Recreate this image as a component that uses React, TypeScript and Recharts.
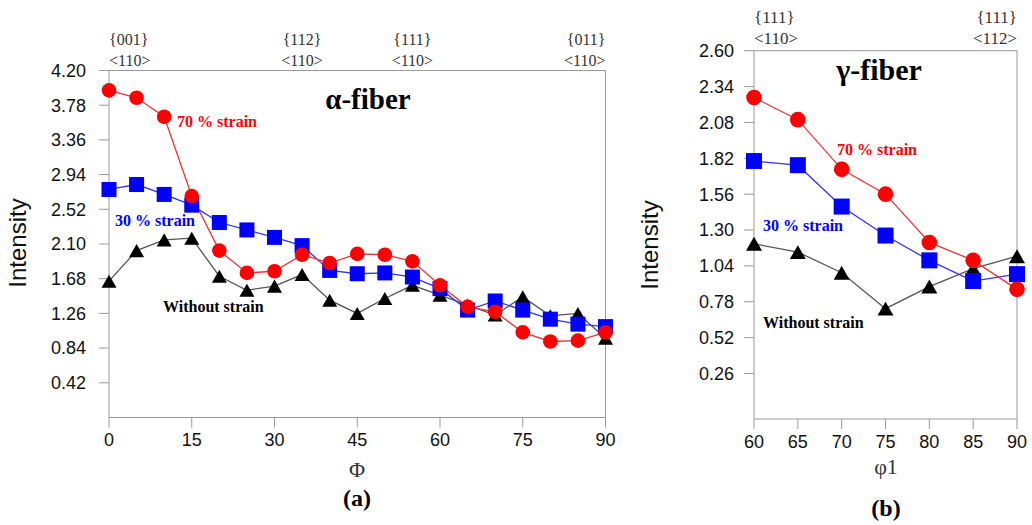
import React from "react";
import { LineChart, Line, XAxis, YAxis, ReferenceLine } from "recharts";

// ---- (a) α-fiber: intensity along Φ ----
const alphaPhi = [0, 5, 10, 15, 20, 25, 30, 35, 40, 45, 50, 55, 60, 65, 70, 75, 80, 85, 90];
const alpha70 = [3.96, 3.87, 3.64, 2.68, 2.02, 1.75, 1.77, 1.97, 1.87, 1.98, 1.97, 1.89, 1.6, 1.34, 1.28, 1.03, 0.92, 0.93, 1.03];
const alpha30 = [2.76, 2.82, 2.7, 2.57, 2.36, 2.27, 2.18, 2.08, 1.78, 1.74, 1.75, 1.7, 1.56, 1.3, 1.41, 1.3, 1.19, 1.13, 1.1];
const alphaNone = [1.65, 2.02, 2.15, 2.17, 1.71, 1.54, 1.59, 1.73, 1.42, 1.26, 1.44, 1.6, 1.48, 1.36, 1.24, 1.46, 1.23, 1.26, 0.96];
const alphaXTicks = [0, 15, 30, 45, 60, 75, 90];
const alphaYTicks = [0.42, 0.84, 1.26, 1.68, 2.1, 2.52, 2.94, 3.36, 3.78, 4.2];
const alphaTopAt = [0, 35, 55, 90];
const alphaTopPlane = ["{001}", "{112}", "{111}", "{011}"];
const alphaTopDir = ["<110>", "<110>", "<110>", "<110>"];

// ---- (b) γ-fiber: intensity along φ1 ----
const gammaPhi1 = [60, 65, 70, 75, 80, 85, 90];
const gamma70 = [2.26, 2.1, 1.74, 1.56, 1.21, 1.08, 0.87];
const gamma30 = [1.8, 1.77, 1.47, 1.26, 1.08, 0.93, 0.98];
const gammaNone = [1.2, 1.14, 0.99, 0.73, 0.89, 1.02, 1.11];
const gammaXTicks = [60, 65, 70, 75, 80, 85, 90];
const gammaYTicks = [0.26, 0.52, 0.78, 1.04, 1.3, 1.56, 1.82, 2.08, 2.34, 2.6];
const gammaTopAt = [60, 90];
const gammaTopPlane = ["{111}", "{111}"];
const gammaTopDir = ["<110>", "<112>"];

const alphaData = alphaPhi.map((x, i) => ({ x, s70: alpha70[i], s30: alpha30[i], s0: alphaNone[i] }));
const gammaData = gammaPhi1.map((x, i) => ({ x, s70: gamma70[i], s30: gamma30[i], s0: gammaNone[i] }));

const SANS = "'Liberation Sans', Arial, sans-serif";
const SERIF = "'Liberation Serif', 'Times New Roman', serif";
const AXIS = "#9a9a9a";

const circleDot = (fill: string, r: number) => (p: any) =>
  p.cx == null ? null : <circle key={`c${p.index}`} cx={p.cx} cy={p.cy} r={r} fill={fill} />;
const squareDot = (fill: string, s: number) => (p: any) =>
  p.cx == null ? null : <rect key={`s${p.index}`} x={p.cx - s / 2} y={p.cy - s / 2} width={s} height={s} fill={fill} />;
const triangleDot = (fill: string, w: number) => (p: any) => {
  if (p.cx == null) return null;
  const h = w * 0.87;
  const pts = `${p.cx},${p.cy - h / 2} ${p.cx - w / 2},${p.cy + h / 2} ${p.cx + w / 2},${p.cy + h / 2}`;
  return <polygon key={`t${p.index}`} points={pts} fill={fill} />;
};

type FiberProps = {
  data: any[];
  width: number;
  height: number;
  margin: { top: number; right: number; bottom: number; left: number };
  yAxisWidth: number;
  topHeight: number;
  bottomHeight: number;
  xDomain: [number, number];
  xTicks: number[];
  yDomain: [number, number];
  yTicks: number[];
  yTickMargin: number;
  topAt: number[];
  topPlane: string[];
  topDir: string[];
  topFont: number;
  planeDy: number;
  dirDy: number;
  circleR: number;
  square: number;
  tri: number;
};

function FiberChart(p: FiberProps) {
  const plotTop = p.margin.top + p.topHeight;
  const TopTick = (t: any) => {
    const v = t.payload.value;
    const i = p.topAt.indexOf(v);
    const anchor = v === p.xDomain[0] ? "start" : v === p.xDomain[1] ? "end" : "middle";
    return (
      <g>
        <text x={t.x} y={plotTop + p.planeDy} textAnchor={anchor} fontFamily={SERIF} fontSize={p.topFont} fill="#333">
          {p.topPlane[i]}
        </text>
        <text x={t.x} y={plotTop + p.dirDy} textAnchor={anchor} fontFamily={SERIF} fontSize={p.topFont} fill="#333">
          {p.topDir[i]}
        </text>
      </g>
    );
  };
  return (
    <LineChart width={p.width} height={p.height} data={p.data} margin={p.margin}>
      <XAxis
        xAxisId="top"
        orientation="top"
        dataKey="x"
        type="number"
        domain={p.xDomain}
        ticks={p.topAt}
        interval={0}
        height={p.topHeight}
        tickLine={false}
        axisLine={{ stroke: AXIS }}
        tick={TopTick}
      />
      <XAxis
        xAxisId="bottom"
        dataKey="x"
        type="number"
        domain={p.xDomain}
        ticks={p.xTicks}
        interval={0}
        height={p.bottomHeight}
        tickSize={10}
        tickMargin={6}
        axisLine={{ stroke: AXIS }}
        tickLine={{ stroke: AXIS }}
        tick={{ fontSize: 18, fill: "#111", fontFamily: SANS }}
      />
      <YAxis
        yAxisId="y"
        type="number"
        domain={p.yDomain}
        ticks={p.yTicks}
        interval={0}
        allowDataOverflow
        width={p.yAxisWidth}
        tickSize={10}
        tickMargin={p.yTickMargin}
        axisLine={{ stroke: AXIS }}
        tickLine={{ stroke: AXIS }}
        tickFormatter={(v: number) => v.toFixed(2)}
        tick={{ fontSize: 18, fill: "#111", fontFamily: SANS }}
      />
      <ReferenceLine xAxisId="bottom" yAxisId="y" x={p.xDomain[1]} stroke={AXIS} />
      <Line
        xAxisId="top"
        yAxisId="y"
        dataKey="s70"
        stroke="none"
        dot={false}
        activeDot={false}
        legendType="none"
        isAnimationActive={false}
      />
      <Line
        xAxisId="bottom"
        yAxisId="y"
        type="linear"
        dataKey="s0"
        stroke="#555"
        strokeWidth={1.3}
        dot={triangleDot("#000", p.tri)}
        activeDot={false}
        isAnimationActive={false}
      />
      <Line
        xAxisId="bottom"
        yAxisId="y"
        type="linear"
        dataKey="s30"
        stroke="#3535ee"
        strokeWidth={1.3}
        dot={squareDot("#0000ff", p.square)}
        activeDot={false}
        isAnimationActive={false}
      />
      <Line
        xAxisId="bottom"
        yAxisId="y"
        type="linear"
        dataKey="s70"
        stroke="#ee3535"
        strokeWidth={1.3}
        dot={circleDot("#ff0000", p.circleR)}
        activeDot={false}
        isAnimationActive={false}
      />
    </LineChart>
  );
}

export default function App() {
  return (
    <div style={{ position: "absolute", left: 0, top: 0, width: 1032, height: 525, background: "#fff" }}>
      <div style={{ position: "absolute", left: 0, top: 0 }}>
        <FiberChart
          data={alphaData}
          width={640}
          height={525}
          margin={{ top: 0, right: 34.5, bottom: 67.5, left: 49 }}
          yAxisWidth={60}
          topHeight={70.5}
          bottomHeight={40}
          xDomain={[0, 90]}
          xTicks={alphaXTicks}
          yDomain={[0, 4.2]}
          yTicks={alphaYTicks}
          yTickMargin={13}
          topAt={alphaTopAt}
          topPlane={alphaTopPlane}
          topDir={alphaTopDir}
          topFont={16}
          planeDy={-25.5}
          dirDy={-4.5}
          circleR={7.3}
          square={15}
          tri={15}
        />
      </div>
      <div style={{ position: "absolute", left: 640, top: 0 }}>
        <FiberChart
          data={gammaData}
          width={392}
          height={525}
          margin={{ top: 0, right: 15, bottom: 66, left: 52 }}
          yAxisWidth={62}
          topHeight={50.7}
          bottomHeight={40}
          xDomain={[60, 90]}
          xTicks={gammaXTicks}
          yDomain={[-0.07, 2.6]}
          yTicks={gammaYTicks}
          yTickMargin={10}
          topAt={gammaTopAt}
          topPlane={gammaTopPlane}
          topDir={gammaTopDir}
          topFont={17}
          planeDy={-28}
          dirDy={-6.5}
          circleR={7.8}
          square={16}
          tri={16}
        />
      </div>
      <svg
        width={1032}
        height={525}
        style={{ position: "absolute", left: 0, top: 0, pointerEvents: "none" }}
      >
        <text transform="translate(26,243) rotate(-90)" textAnchor="middle" fontFamily={SANS} fontSize={24} fill="#111">
          Intensity
        </text>
        <text transform="translate(658,245) rotate(-90)" textAnchor="middle" fontFamily={SANS} fontSize={24} fill="#111">
          Intensity
        </text>
        <text x={368} y={109} textAnchor="middle" fontFamily={SERIF} fontWeight="bold" fontSize={29} fill="#000">
          α-fiber
        </text>
        <text x={879} y={80} textAnchor="middle" fontFamily={SERIF} fontWeight="bold" fontSize={30} fill="#000">
          γ-fiber
        </text>
        <text x={177} y={127} fontFamily={SERIF} fontWeight="bold" fontSize={16} fill="#ff0000">70 % strain</text>
        <text x={115} y={225.5} fontFamily={SERIF} fontWeight="bold" fontSize={16} fill="#0000ff">30 % strain</text>
        <text x={163} y={312} fontFamily={SERIF} fontWeight="bold" fontSize={16} fill="#000">Without strain</text>
        <text x={837} y={154.5} fontFamily={SERIF} fontWeight="bold" fontSize={16} fill="#ff0000">70 % strain</text>
        <text x={763} y={230.5} fontFamily={SERIF} fontWeight="bold" fontSize={16} fill="#0000ff">30 % strain</text>
        <text x={763} y={328} fontFamily={SERIF} fontWeight="bold" fontSize={16} fill="#000">Without strain</text>
        <text x={357} y={477} textAnchor="middle" fontFamily={SERIF} fontSize={22} fill="#333">Φ</text>
        <text x={357} y={506} textAnchor="middle" fontFamily={SERIF} fontWeight="bold" fontSize={24} fill="#000">(a)</text>
        <text x={886} y={474} textAnchor="middle" fontFamily={SERIF} fontSize={22} fill="#333">φ1</text>
        <text x={886} y={516} textAnchor="middle" fontFamily={SERIF} fontWeight="bold" fontSize={24} fill="#000">(b)</text>
      </svg>
    </div>
  );
}
